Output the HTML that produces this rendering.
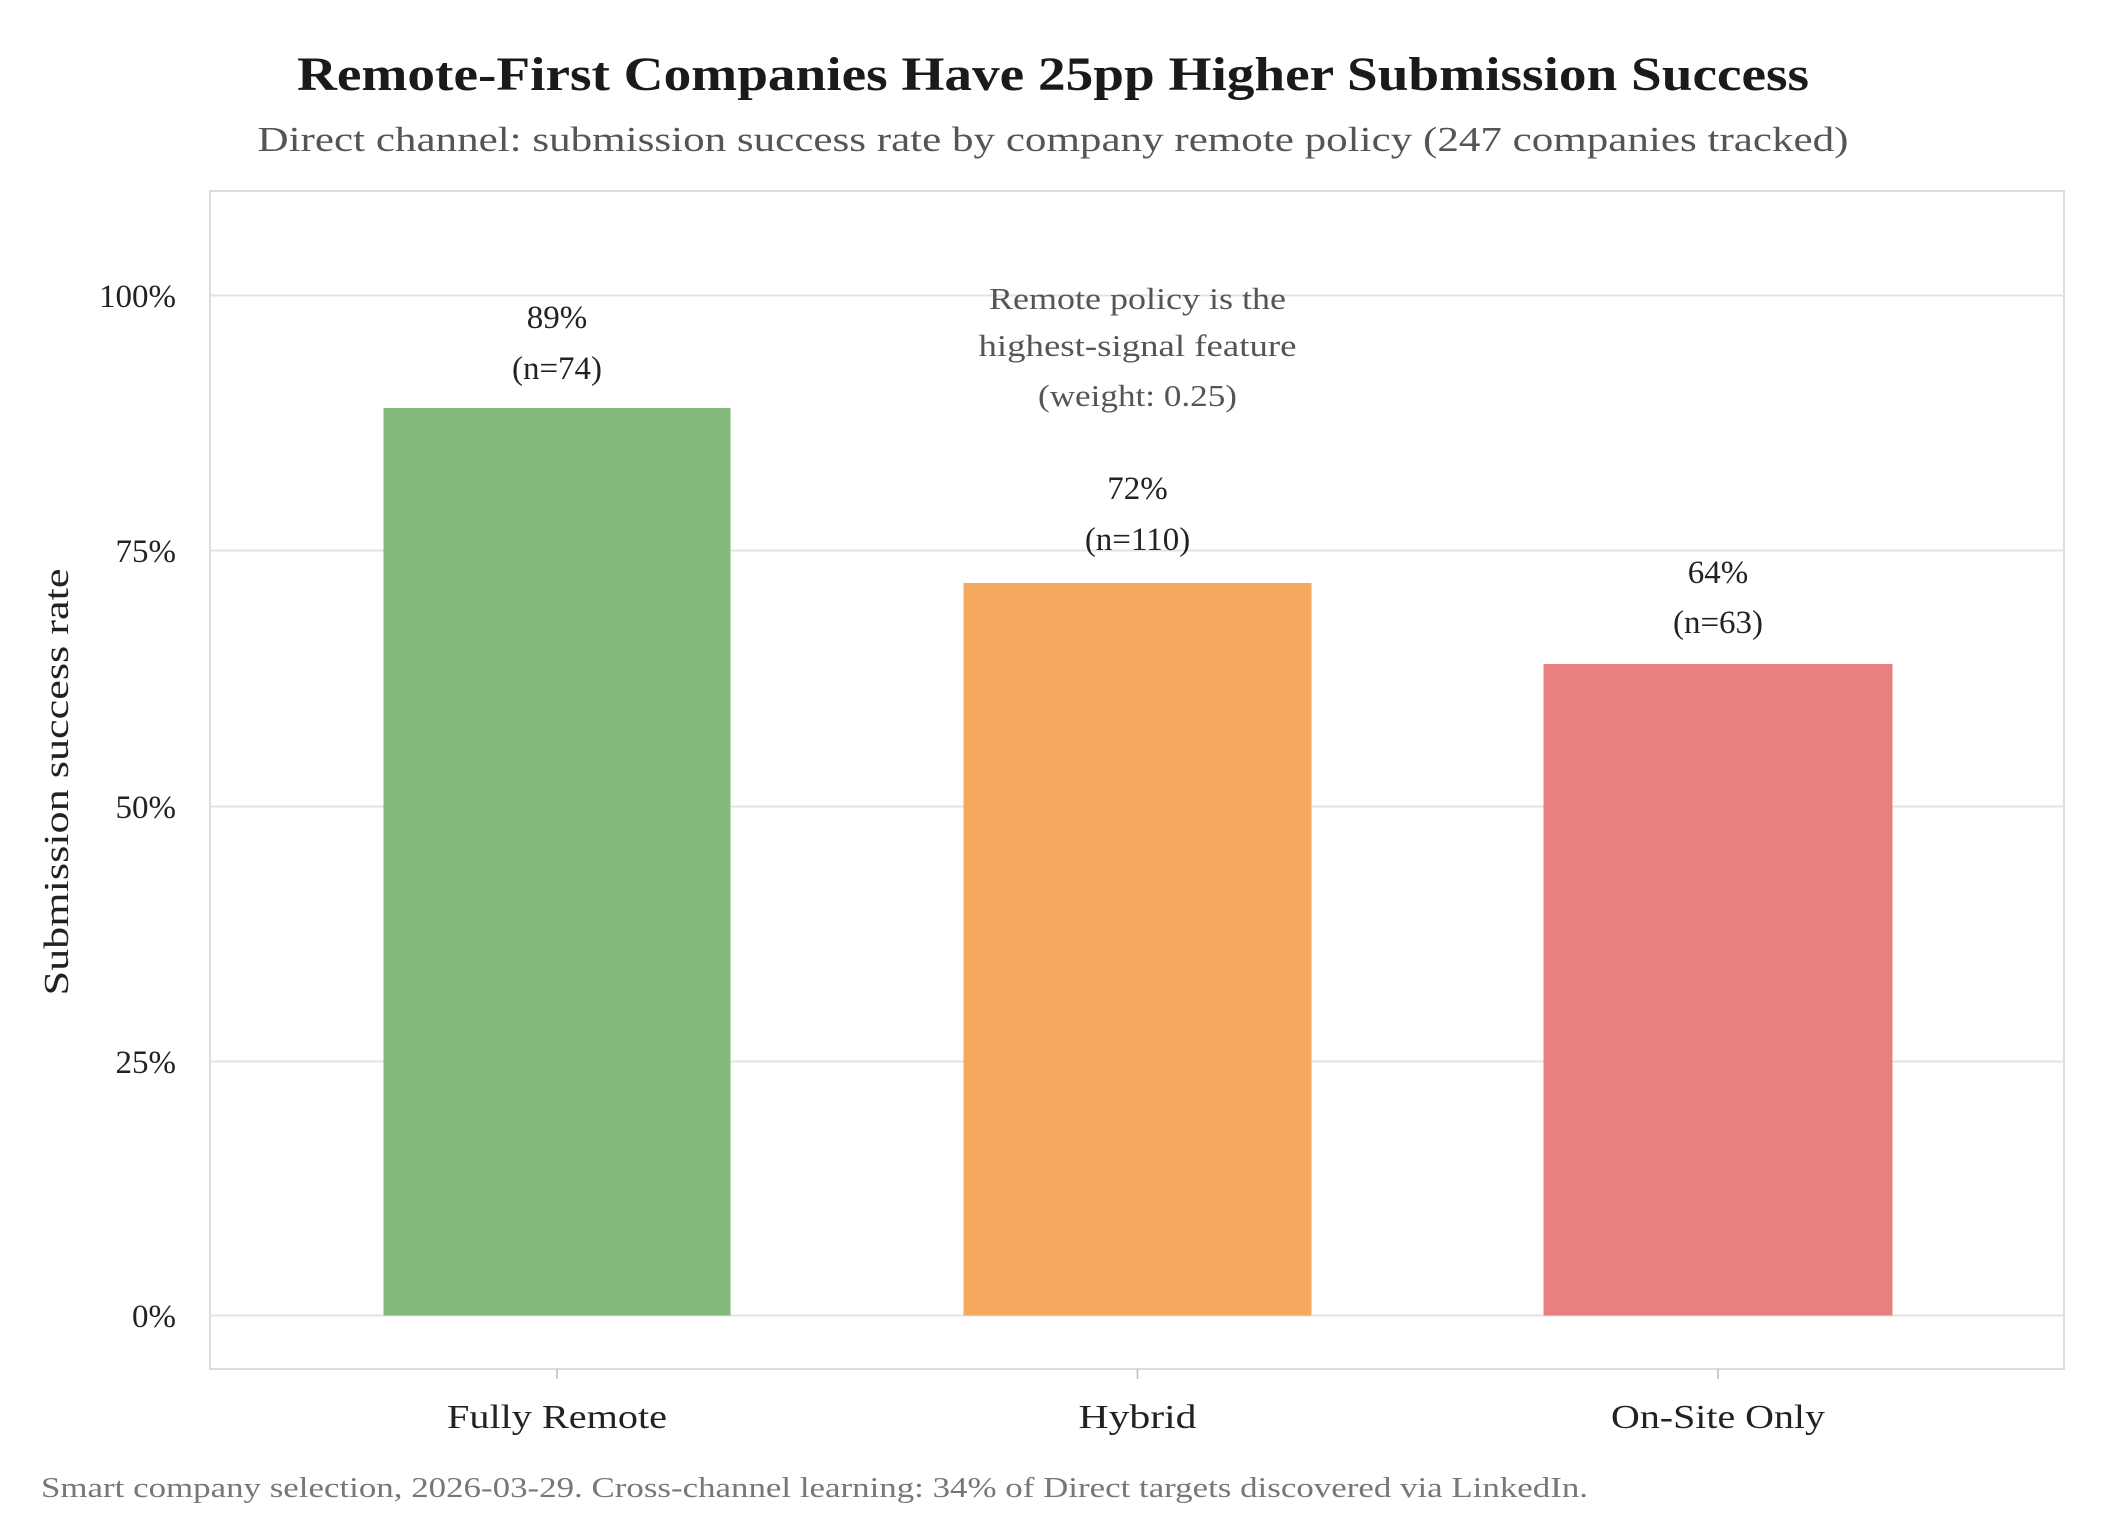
<!DOCTYPE html>
<html><head><meta charset="utf-8"><style>
body{margin:0;background:#fff;}
svg text{font-family:"Liberation Serif",serif;}
</style></head><body>
<svg width="2125" height="1535" viewBox="0 0 2125 1535" xmlns="http://www.w3.org/2000/svg">
<rect width="2125" height="1535" fill="#fff"/>
<text x="1053" y="90" text-anchor="middle" font-size="48" font-weight="bold" fill="#1a1a1a" textLength="1512" lengthAdjust="spacingAndGlyphs">Remote-First Companies Have 25pp Higher Submission Success</text>
<text x="1053" y="151" text-anchor="middle" font-size="35" fill="#555" textLength="1591" lengthAdjust="spacingAndGlyphs">Direct channel: submission success rate by company remote policy (247 companies tracked)</text>
<rect x="210" y="191" width="1854" height="1178" fill="none" stroke="#d0d0d0" stroke-width="1.5"/>
<g stroke="#e3e3e3" stroke-width="2">
<line x1="210" x2="2064" y1="295.5" y2="295.5"/>
<line x1="210" x2="2064" y1="550.5" y2="550.5"/>
<line x1="210" x2="2064" y1="806.5" y2="806.5"/>
<line x1="210" x2="2064" y1="1061.5" y2="1061.5"/>
<line x1="210" x2="2064" y1="1315.5" y2="1315.5"/>
</g>
<g font-size="33" fill="#222" text-anchor="end">
<text x="176" y="307">100%</text>
<text x="176" y="562">75%</text>
<text x="176" y="818">50%</text>
<text x="176" y="1073">25%</text>
<text x="176" y="1327">0%</text>
</g>
<text transform="translate(68,782) rotate(-90)" text-anchor="middle" font-size="35" fill="#222" textLength="427" lengthAdjust="spacingAndGlyphs">Submission success rate</text>
<rect x="383.5" y="408" width="347" height="907.5" fill="#82b87a"/>
<rect x="963.5" y="583" width="348" height="732.5" fill="#f4a95f"/>
<rect x="1543.5" y="664" width="349" height="651.5" fill="#e88080"/>
<g stroke="#bbb" stroke-width="1.5">
<line x1="557" x2="557" y1="1369" y2="1379"/>
<line x1="1137.5" x2="1137.5" y1="1369" y2="1379"/>
<line x1="1718" x2="1718" y1="1369" y2="1379"/>
</g>
<g font-size="33" fill="#222" text-anchor="middle">
<text x="557" y="328">89%</text>
<text x="557" y="379">(n=74)</text>
<text x="1137.5" y="499">72%</text>
<text x="1137.5" y="550">(n=110)</text>
<text x="1718" y="583">64%</text>
<text x="1718" y="633">(n=63)</text>
<text x="557" y="1428" font-size="34" textLength="220" lengthAdjust="spacingAndGlyphs">Fully Remote</text>
<text x="1137.5" y="1428" font-size="34" textLength="118" lengthAdjust="spacingAndGlyphs">Hybrid</text>
<text x="1718" y="1428" font-size="34" textLength="214" lengthAdjust="spacingAndGlyphs">On-Site Only</text>
</g>
<g font-size="31" fill="#555" text-anchor="middle">
<text x="1137.5" y="309" textLength="297" lengthAdjust="spacingAndGlyphs">Remote policy is the</text>
<text x="1137.5" y="356" textLength="318" lengthAdjust="spacingAndGlyphs">highest-signal feature</text>
<text x="1137.5" y="406" textLength="199" lengthAdjust="spacingAndGlyphs">(weight: 0.25)</text>
</g>
<text x="41" y="1497" font-size="29" fill="#777" textLength="1547" lengthAdjust="spacingAndGlyphs">Smart company selection, 2026-03-29. Cross-channel learning: 34% of Direct targets discovered via LinkedIn.</text>
</svg>
</body></html>
